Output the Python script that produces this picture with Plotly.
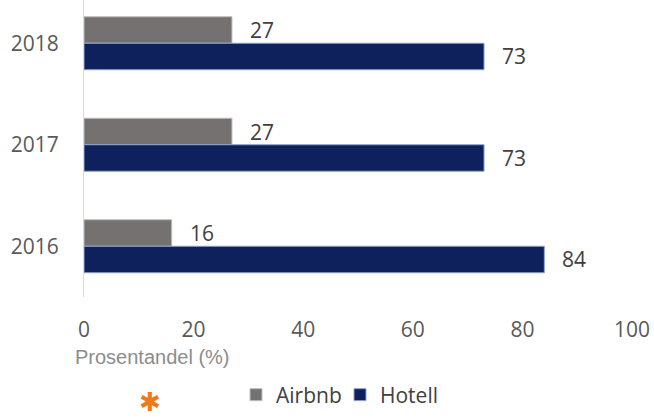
import plotly.graph_objects as go

years = ["2016", "2017", "2018"]
airbnb = [16, 27, 27]
hotell = [84, 73, 73]
x_ticks = [0, 20, 40, 60, 80, 100]

BAR_W = 0.261
grey = "#757170"
navy = "#0f215c"
font = "Open Sans"

fig = go.Figure()
fig.add_trace(go.Bar(
    y=years, x=airbnb, orientation="h", name="Airbnb",
    marker=dict(color=grey, line=dict(color="#bdbdbd", width=1)),
    width=BAR_W, offset=0, hoverinfo="skip",
))
fig.add_trace(go.Bar(
    y=years, x=hotell, orientation="h", name="Hotell",
    marker=dict(color=navy, line=dict(color="#8ea2cc", width=1)),
    width=BAR_W, offset=-BAR_W, hoverinfo="skip",
))

for i, (a, h) in enumerate(zip(airbnb, hotell)):
    fig.add_annotation(x=a, y=i + BAR_W / 2, text=str(a), showarrow=False, xanchor="left",
                       yanchor="middle", xshift=16,
                       font=dict(family=font, size=21, color="#404040"))
    fig.add_annotation(x=h, y=i - BAR_W / 2, text=str(h), showarrow=False, xanchor="left",
                       yanchor="middle", xshift=16,
                       font=dict(family=font, size=21, color="#404040"))

fig.add_annotation(x=-0.02, y=(297 - 357) / 297, xref="paper", yref="paper",
                   text="Prosentandel (%)", showarrow=False, xanchor="left", yanchor="middle",
                   font=dict(family="Liberation Sans", size=20, color="#8c8c8c"))
fig.add_annotation(x=(150 - 84) / 548, y=(297 - 419) / 297, xref="paper", yref="paper",
                   text="✱", showarrow=False, xanchor="center", yanchor="bottom",
                   font=dict(family="DejaVu Sans", size=26, color="#f07a1a"))

fig.update_layout(
    width=654, height=419,
    margin=dict(l=84, r=22, t=0, b=122),
    paper_bgcolor="white", plot_bgcolor="white",
    barmode="overlay",
    showlegend=True,
    legend=dict(orientation="h", x=(236 - 84) / 548, xanchor="left",
                y=(297 - 395) / 297, yanchor="middle", entrywidth=59,
                font=dict(family=font, size=21, color="#404040"),
                itemclick=False, itemdoubleclick=False),
    xaxis=dict(range=[0, 100], tickvals=x_ticks, showgrid=False, zeroline=False,
               showline=False, ticks="", ticklabelstandoff=18,
               tickfont=dict(family=font, size=21, color="#595959")),
    yaxis=dict(type="category", categoryorder="array", categoryarray=years,
               range=[-0.5, 2.426], showgrid=False, zeroline=False,
               showline=True, linecolor="#d9d9d9", linewidth=1, ticks="",
               ticklabelstandoff=20,
               tickfont=dict(family=font, size=21, color="#595959")),
)

fig.write_html("out.html")
